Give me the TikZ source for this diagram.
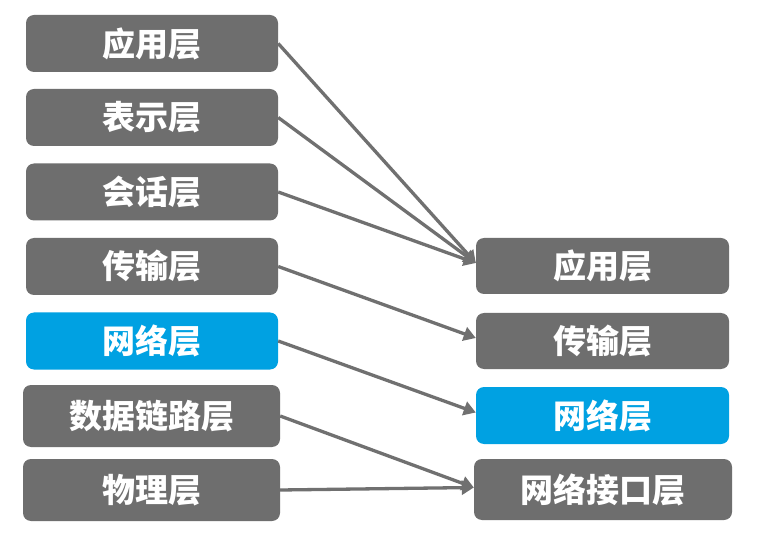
\documentclass[tikz,border=0pt]{standalone}
\usepackage{fontspec}
\newfontfamily\cjk{Noto Sans CJK SC}
\usetikzlibrary{arrows.meta}
\definecolor{boxgray}{RGB}{110,110,110}
\definecolor{boxblue}{RGB}{0,161,226}
\definecolor{arrgray}{RGB}{112,112,112}
\tikzset{
  layer/.style={rounded corners=8pt, fill=boxgray, text=white, inner sep=0pt,
    minimum width=252pt, minimum height=57pt,
    font=\cjk\bfseries\fontsize{33}{33}\selectfont},
  netlayer/.style={layer, fill=boxblue},
  conn/.style={draw=arrgray, line width=3.3pt, -{Triangle[length=12pt,width=14pt]}}
}
\begin{document}
\begin{tikzpicture}[x=1pt,y=-1pt]
\useasboundingbox (0,0) rectangle (771,545);
\fill[white] (0,0) rectangle (771,545);
% left column
\node[layer] (L1) at (152,43.5) {应用层};
\node[layer] (L2) at (152,117.5) {表示层};
\node[layer] (L3) at (152,192) {会话层};
\node[layer] (L4) at (152,266.5) {传输层};
\node[netlayer] (L5) at (152,341) {网络层};
\node[layer, minimum width=257pt, minimum height=62pt] (L6) at (151.5,416) {数据链路层};
\node[layer, minimum width=257pt, minimum height=62pt] (L7) at (151.5,490) {物理层};
% right column
\node[layer, minimum width=253pt, minimum height=56pt] (R1) at (602.5,266) {应用层};
\node[layer, minimum width=253pt, minimum height=56pt] (R2) at (602.5,341) {传输层};
\node[netlayer, minimum width=253pt] (R3) at (602.5,415.5) {网络层};
\node[layer, minimum width=258pt, minimum height=61pt] (R4) at (603,489.5) {网络接口层};
% connectors
\draw[conn] (L1.east) -- ([yshift=3pt]R1.west);
\draw[conn] (L2.east) -- ([yshift=3pt]R1.west);
\draw[conn] (L3.east) -- ([yshift=3pt]R1.west);
\draw[conn] (L4.east) -- ([yshift=3pt]R2.west);
\draw[conn] (L5.east) -- ([yshift=3pt]R3.west);
\draw[conn] (L6.east) -- ([yshift=2pt]R4.west);
\draw[conn] (L7.east) -- ([yshift=2pt]R4.west);
\end{tikzpicture}
\end{document}
